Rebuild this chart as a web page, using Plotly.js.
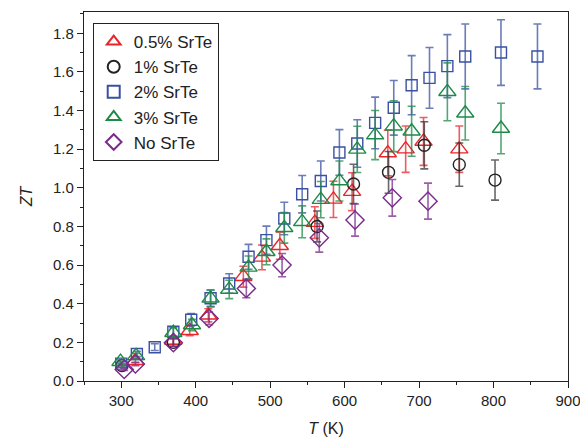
<!DOCTYPE html>
<html><head><meta charset="utf-8">
<script src="https://cdn.plot.ly/plotly-3.0.1.min.js"></script>
<style>html,body{margin:0;padding:0;background:#fff}#chart{width:580px;height:442px}</style>
</head><body><div id="chart"></div>
<script>
const names = ["0.5% SrTe","1% SrTe","2% SrTe","3% SrTe","No SrTe"];
const T_05 = [319,370,392,417,464,489,513,560,585,610,658,682,706,754];
const ZT_05 = [0.105,0.21,0.26,0.34,0.54,0.64,0.70,0.82,0.94,0.98,1.18,1.20,1.24,1.20];
const T_1 = [301,370,563,612,659,707,754,802];
const ZT_1 = [0.08,0.20,0.80,1.02,1.08,1.22,1.12,1.04];
const T_2 = [300,321,345,370,394,420,445,471,495,519,543,568,593,617,641,666,690,714,738,762,810,859];
const ZT_2 = [0.09,0.14,0.175,0.255,0.317,0.428,0.505,0.643,0.729,0.841,0.967,1.035,1.183,1.229,1.336,1.414,1.531,1.569,1.63,1.68,1.70,1.68];
const T_3 = [299,320,370,395,420,445,471,495,519,543,568,593,617,641,666,690,738,762,810];
const ZT_3 = [0.10,0.13,0.25,0.29,0.428,0.474,0.588,0.669,0.793,0.824,0.939,1.035,1.199,1.273,1.319,1.293,1.497,1.386,1.307];
const T_0 = [304,319,370,418,468,516,566,614,664,712];
const ZT_0 = [0.06,0.088,0.198,0.324,0.479,0.600,0.741,0.833,0.948,0.931];

function tr(name, x, y, sym, col, ecol, size){
  return {type:'scatter', mode:'markers', name:name, x:x, y:y,
    marker:{symbol:sym, size:size, color:col, line:{color:col, width:1.4}},
    error_y:{type:'percent', value:10, visible:true, color:ecol, thickness:1.6, width:4}};
}
const data = [
  tr(names[0], T_05, ZT_05, 'triangle-up-open', '#e8262a', 'rgba(232,38,42,0.75)', 15),
  tr(names[1], T_1, ZT_1, 'circle-open', '#222222', 'rgba(40,40,40,0.7)', 12),
  tr(names[2], T_2, ZT_2, 'square-open', '#3a50a2', 'rgba(58,80,162,0.75)', 11),
  tr(names[3], T_3, ZT_3, 'triangle-up-open', '#1d8a48', 'rgba(29,138,72,0.75)', 15),
  tr(names[4], T_0, ZT_0, 'diamond-open', '#7a2a8c', 'rgba(122,42,140,0.75)', 14)
];
const ff = 'Liberation Sans, Arial, sans-serif';
const axfont = {family:ff, size:15, color:'#222'};
const layout = {
  width:580, height:442,
  margin:{l:84, r:12, t:12, b:61},
  paper_bgcolor:'#fff', plot_bgcolor:'#fff',
  showlegend:true,
  legend:{x:0.018, y:0.97, xanchor:'left', yanchor:'top', bordercolor:'#222', borderwidth:1,
    font:{family:ff, size:17, color:'#222'}, tracegroupgap:0, itemsizing:'constant', itemwidth:30},
  xaxis:{range:[250,900], dtick:100, tick0:0, ticks:'outside', ticklen:6, tickcolor:'#222',
    ticklabeloverflow:'allow', automargin:false,
    showline:true, linecolor:'#222', linewidth:1.2, mirror:true, showgrid:false, zeroline:false,
    tickfont:axfont, minor:{dtick:50, ticks:'outside', ticklen:3, tickcolor:'#222'},
    title:{text:'<i>T</i> (K)', font:{family:ff, size:16, color:'#222'}, standoff:14}},
  yaxis:{range:[0,1.91], dtick:0.2, tick0:0, ticks:'outside', ticklen:6, tickcolor:'#222', tickformat:'.1f',
    showline:true, linecolor:'#222', linewidth:1.2, mirror:true, showgrid:false, zeroline:false,
    tickfont:axfont, minor:{dtick:0.1, ticks:'outside', ticklen:3, tickcolor:'#222'},
    title:{text:'<i>ZT</i>', font:{family:ff, size:16, color:'#222'}, standoff:16}}
};
Plotly.newPlot('chart', data, layout, {displayModeBar:false, staticPlot:true});
</script></body></html>
